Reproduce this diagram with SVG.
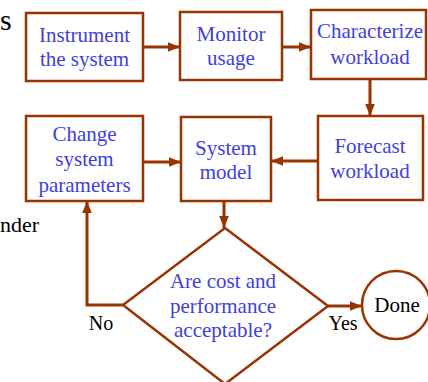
<svg xmlns="http://www.w3.org/2000/svg" width="428" height="382" viewBox="0 0 428 382">
<defs>
<marker id="ah" markerUnits="userSpaceOnUse" markerWidth="12" markerHeight="12" viewBox="0 0 10 10" refX="10" refY="5" orient="auto">
<path d="M0,1 L10,5 L0,9 Z" fill="#993300"/>
</marker>
</defs>
<rect width="428" height="382" fill="#fff"/>
<text x="0" y="30" font-size="30" font-family="'Liberation Serif'" fill="#000">s</text>
<text x="0" y="232" font-size="22" font-family="'Liberation Serif'" fill="#000">nder</text>
<g id="connectors" fill="none" stroke="#993300" stroke-width="3">
<line x1="143" y1="47" x2="180" y2="47" marker-end="url(#ah)"/>
<line x1="282" y1="47" x2="311" y2="47" marker-end="url(#ah)"/>
<line x1="370" y1="79" x2="370" y2="116" marker-end="url(#ah)"/>
<line x1="318" y1="161" x2="271" y2="161" marker-end="url(#ah)"/>
<line x1="143" y1="162" x2="181" y2="162" marker-end="url(#ah)"/>
<line x1="224" y1="201" x2="224" y2="228" marker-end="url(#ah)"/>
<polyline points="123,305 87,305 87,201" marker-end="url(#ah)"/>
<line x1="328" y1="306" x2="362" y2="306" marker-end="url(#ah)"/>
</g>
<text x="101" y="330" font-size="20" text-anchor="middle" font-family="'Liberation Serif'" fill="#000">No</text>
<text x="343" y="330" font-size="20" text-anchor="middle" font-family="'Liberation Serif'" fill="#000">Yes</text>
<g id="instrument">
<rect x="26" y="13" width="117" height="68" fill="#fff" stroke="#993300" stroke-width="2.5"/>
<text x="84.5" y="42" font-size="21" text-anchor="middle" fill="#4040dd" font-family="'Liberation Serif'">Instrument</text>
<text x="84.5" y="66" font-size="21" text-anchor="middle" fill="#4040dd" font-family="'Liberation Serif'">the system</text>
</g>
<g id="monitor">
<rect x="180" y="12" width="102" height="68" fill="#fff" stroke="#993300" stroke-width="2.5"/>
<text x="231" y="41" font-size="21" text-anchor="middle" fill="#4040dd" font-family="'Liberation Serif'">Monitor</text>
<text x="231" y="65" font-size="21" text-anchor="middle" fill="#4040dd" font-family="'Liberation Serif'">usage</text>
</g>
<g id="characterize">
<rect x="311" y="10" width="115" height="69" fill="#fff" stroke="#993300" stroke-width="2.5"/>
<text x="370" y="38" font-size="21" text-anchor="middle" fill="#4040dd" font-family="'Liberation Serif'">Characterize</text>
<text x="370" y="64" font-size="21" text-anchor="middle" fill="#4040dd" font-family="'Liberation Serif'">workload</text>
</g>
<g id="forecast">
<rect x="318" y="116" width="105" height="84" fill="#fff" stroke="#993300" stroke-width="2.5"/>
<text x="370" y="153" font-size="21" text-anchor="middle" fill="#4040dd" font-family="'Liberation Serif'">Forecast</text>
<text x="370" y="178" font-size="21" text-anchor="middle" fill="#4040dd" font-family="'Liberation Serif'">workload</text>
</g>
<g id="model">
<rect x="181" y="117" width="90" height="84" fill="#fff" stroke="#993300" stroke-width="2.5"/>
<text x="226" y="155" font-size="21" text-anchor="middle" fill="#4040dd" font-family="'Liberation Serif'">System</text>
<text x="226" y="179" font-size="21" text-anchor="middle" fill="#4040dd" font-family="'Liberation Serif'">model</text>
</g>
<g id="change">
<rect x="26" y="116" width="117" height="85" fill="#fff" stroke="#993300" stroke-width="2.5"/>
<text x="84.5" y="141" font-size="21" text-anchor="middle" fill="#4040dd" font-family="'Liberation Serif'">Change</text>
<text x="84.5" y="166" font-size="21" text-anchor="middle" fill="#4040dd" font-family="'Liberation Serif'">system</text>
<text x="84.5" y="192" font-size="21" text-anchor="middle" fill="#4040dd" font-family="'Liberation Serif'">parameters</text>
</g>
<g id="decision">
<polygon points="225,228 328,306 225,384 123,305" fill="#fff" stroke="#993300" stroke-width="2.5"/>
<text x="223" y="288" font-size="21" text-anchor="middle" fill="#4040dd" font-family="'Liberation Serif'">Are cost and</text>
<text x="223" y="313" font-size="21" text-anchor="middle" fill="#4040dd" font-family="'Liberation Serif'">performance</text>
<text x="223" y="337" font-size="21" text-anchor="middle" fill="#4040dd" font-family="'Liberation Serif'">acceptable?</text>
</g>
<g id="done">
<circle cx="396" cy="305" r="34" fill="#fff" stroke="#993300" stroke-width="2.5"/>
<text x="397" y="312" font-size="21" text-anchor="middle" fill="#000" font-family="'Liberation Serif'">Done</text>
</g>
</svg>
